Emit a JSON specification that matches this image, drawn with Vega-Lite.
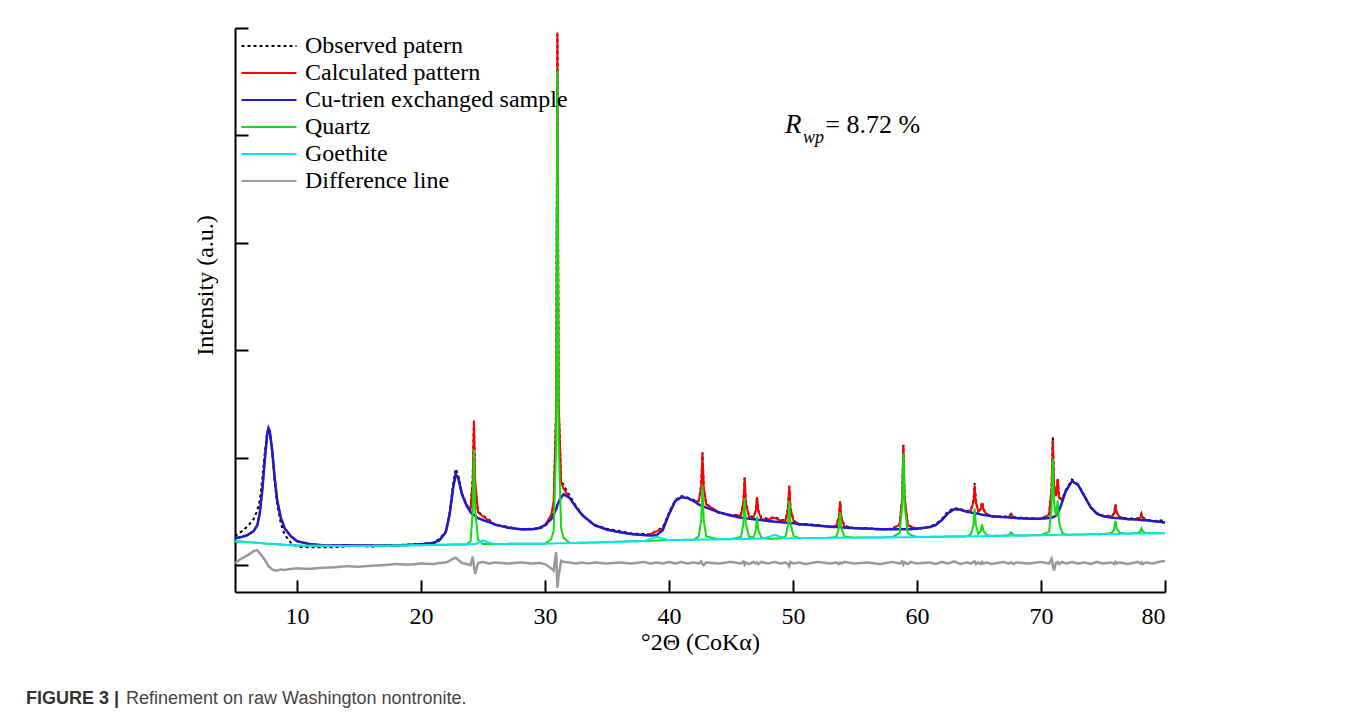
{
  "$schema": "https://vega.github.io/schema/vega-lite/v6.json",
  "width": 930,
  "height": 564,
  "autosize": {"type": "none"},
  "padding": {"left": 235, "top": 28, "right": 182, "bottom": 128},
  "background": "white",
  "config": {"view": {"stroke": null}},
  "title": {
    "text": "FIGURE 3 |",
    "subtitle": "\u200b\u00a0\u00a0\u00a0\u00a0\u00a0\u00a0\u00a0\u00a0\u00a0\u00a0\u00a0\u00a0\u00a0\u00a0\u00a0\u00a0\u00a0\u00a0\u00a0\u00a0Refinement on raw Washington nontronite.",
    "orient": "bottom",
    "anchor": "start",
    "frame": "group",
    "dx": -209,
    "offset": 36,
    "font": "Liberation Sans",
    "fontSize": 18,
    "fontWeight": "bold",
    "color": "#333333",
    "subtitleFont": "Liberation Sans",
    "subtitleFontSize": 18,
    "subtitleFontWeight": "normal",
    "subtitleColor": "#444444",
    "subtitlePadding": -18
  },
  "data": {"values": [
    {"x":5,"obs":27.1,"calc":25.1,"clay":25.1,"qtz":22.3,"goe":22.3,"diff":2},
    {"x":5.5,"obs":31.1,"calc":26.1,"clay":26.1,"qtz":21.9,"goe":21.9,"diff":6},
    {"x":6,"obs":35.9,"calc":27.9,"clay":27.9,"qtz":21.5,"goe":21.5,"diff":9},
    {"x":6.5,"obs":42.7,"calc":31.7,"clay":31.7,"qtz":21.1,"goe":21.1,"diff":13},
    {"x":6.8,"obs":51.2,"calc":37.2,"clay":37.2,"qtz":20.8,"goe":20.8,"diff":14},
    {"x":7.0,"obs":60.4,"calc":48.4,"clay":48.4,"qtz":20.6,"goe":20.6,"diff":11},
    {"x":7.2,"obs":79.8,"calc":69.8,"clay":69.8,"qtz":20.4,"goe":20.4,"diff":8},
    {"x":7.4,"obs":104.8,"calc":97.8,"clay":97.8,"qtz":20.2,"goe":20.2,"diff":5},
    {"x":7.6,"obs":124,"calc":122,"clay":122,"qtz":20.0,"goe":20.0,"diff":1},
    {"x":7.7,"obs":127.5,"calc":127.5,"clay":127.5,"qtz":19.9,"goe":19.9,"diff":-1},
    {"x":7.8,"obs":123.8,"calc":124.8,"clay":124.8,"qtz":19.8,"goe":19.8,"diff":-2},
    {"x":8.0,"obs":105,"calc":107,"clay":107,"qtz":19.8,"goe":19.8,"diff":-4},
    {"x":8.2,"obs":78,"calc":81,"clay":81,"qtz":19.6,"goe":19.6,"diff":-5},
    {"x":8.4,"obs":56.5,"calc":60.5,"clay":60.5,"qtz":19.4,"goe":19.4,"diff":-5},
    {"x":8.7,"obs":38.8,"calc":43.8,"clay":43.8,"qtz":19.2,"goe":19.2,"diff":-4},
    {"x":9.0,"obs":28.4,"calc":34.4,"clay":34.4,"qtz":19.0,"goe":19.0,"diff":-4.5},
    {"x":9.5,"obs":21,"calc":27,"clay":27,"qtz":18.6,"goe":18.6,"diff":-3.5},
    {"x":10,"obs":17.3,"calc":22.3,"clay":22.3,"qtz":18.2,"goe":18.2,"diff":-3},
    {"x":11,"obs":16.6,"calc":19.6,"clay":19.6,"qtz":18.1,"goe":18.1,"diff":-3.5},
    {"x":12,"obs":16.6,"calc":18.6,"clay":18.6,"qtz":18.0,"goe":18.0,"diff":-2.5},
    {"x":13,"obs":16.7,"calc":18.2,"clay":18.2,"qtz":17.9,"goe":17.9,"diff":-2},
    {"x":14,"obs":17.5,"calc":18.5,"clay":18.5,"qtz":17.8,"goe":17.8,"diff":-1},
    {"x":15,"obs":18.2,"calc":18.2,"clay":18.2,"qtz":17.7,"goe":17.7,"diff":-1.5},
    {"x":16,"obs":17.2,"calc":18.2,"clay":18.2,"qtz":17.9,"goe":17.9,"diff":-0.5},
    {"x":17,"obs":18.8,"calc":18.3,"clay":18.3,"qtz":18.1,"goe":18.1,"diff":0},
    {"x":18,"obs":18.0,"calc":18.5,"clay":18.5,"qtz":18.2,"goe":18.2,"diff":1},
    {"x":19,"obs":19.3,"calc":18.8,"clay":18.8,"qtz":18.4,"goe":18.4,"diff":0.5},
    {"x":20,"obs":19.5,"calc":19.5,"clay":19.5,"qtz":18.6,"goe":18.6,"diff":1.5},
    {"x":21,"obs":21.0,"calc":20.5,"clay":20.5,"qtz":18.8,"goe":18.8,"diff":1},
    {"x":21.5,"obs":24.3,"calc":23.3,"clay":23.3,"qtz":18.9,"goe":18.9,"diff":2},
    {"x":22,"obs":31.7,"calc":30.7,"clay":30.7,"qtz":19.0,"goe":19.0,"diff":2.5},
    {"x":22.3,"obs":48.6,"calc":46.6,"clay":46.6,"qtz":19.1,"goe":19.1,"diff":4},
    {"x":22.6,"obs":76.6,"calc":72.6,"clay":72.6,"qtz":19.1,"goe":19.1,"diff":6},
    {"x":22.8,"obs":89.7,"calc":84.7,"clay":84.7,"qtz":19.2,"goe":19.2,"diff":7},
    {"x":23.0,"obs":84,"calc":81,"clay":81,"qtz":19.2,"goe":19.2,"diff":5},
    {"x":23.3,"obs":67.1,"calc":66.1,"clay":66.1,"qtz":19.3,"goe":19.3,"diff":2},
    {"x":23.7,"obs":55.4,"calc":54.9,"clay":54.9,"qtz":19.3,"goe":19.3,"diff":1},
    {"x":24.0,"obs":52.8,"calc":52.3,"clay":49.3,"qtz":22.4,"goe":19.4,"diff":0},
    {"x":24.17,"obs":81.3,"calc":77.3,"clay":47.3,"qtz":49.4,"goe":19.4,"diff":8},
    {"x":24.27,"obs":134.6,"calc":134.6,"clay":46.6,"qtz":107.5,"goe":19.5,"diff":-1},
    {"x":24.37,"obs":72.8,"calc":77.8,"clay":45.8,"qtz":51.5,"goe":19.5,"diff":-8},
    {"x":24.6,"obs":50.0,"calc":49.0,"clay":43.8,"qtz":23.5,"goe":20.7,"diff":2},
    {"x":25.0,"obs":45.9,"calc":45.4,"clay":41.9,"qtz":19.6,"goe":23.1,"diff":3},
    {"x":25.5,"obs":42.2,"calc":41.2,"clay":40.0,"qtz":19.6,"goe":20.8,"diff":1.5},
    {"x":26,"obs":37.2,"calc":37.7,"clay":37.7,"qtz":19.7,"goe":19.7,"diff":2.5},
    {"x":27,"obs":35.7,"calc":34.9,"clay":34.9,"qtz":19.8,"goe":19.8,"diff":1.5},
    {"x":28,"obs":33.0,"calc":33.5,"clay":33.5,"qtz":19.8,"goe":19.8,"diff":2.5},
    {"x":29,"obs":34.0,"calc":33.5,"clay":33.5,"qtz":19.9,"goe":19.9,"diff":1.5},
    {"x":29.5,"obs":33.9,"calc":34.4,"clay":34.4,"qtz":20.0,"goe":20.0,"diff":2},
    {"x":30,"obs":36.2,"calc":37.2,"clay":37.2,"qtz":20.0,"goe":20.0,"diff":1},
    {"x":30.5,"obs":43.8,"calc":46.8,"clay":42.8,"qtz":24.1,"goe":20.1,"diff":-3},
    {"x":30.7,"obs":55.5,"calc":59.5,"clay":47.5,"qtz":32.2,"goe":20.2,"diff":-5},
    {"x":30.9,"obs":150.1,"calc":142.1,"clay":52.1,"qtz":110.3,"goe":20.3,"diff":12},
    {"x":31.0,"obs":493.9,"calc":495.9,"clay":55.9,"qtz":460.3,"goe":20.3,"diff":-21},
    {"x":31.1,"obs":147.7,"calc":153.7,"clay":58.7,"qtz":115.3,"goe":20.3,"diff":-10},
    {"x":31.3,"obs":79,"calc":77,"clay":63.0,"qtz":34.4,"goe":20.4,"diff":4},
    {"x":31.5,"obs":74.1,"calc":71.1,"clay":66.1,"qtz":25.4,"goe":20.4,"diff":3},
    {"x":32,"obs":64.4,"calc":62.4,"clay":62.4,"qtz":20.6,"goe":20.6,"diff":2.5},
    {"x":32.5,"obs":55.0,"calc":54.0,"clay":54.0,"qtz":20.7,"goe":20.7,"diff":1.5},
    {"x":33,"obs":47.1,"calc":46.6,"clay":46.6,"qtz":20.8,"goe":20.8,"diff":2.5},
    {"x":33.5,"obs":41.4,"calc":41.9,"clay":41.9,"qtz":21.0,"goe":21.0,"diff":1.5},
    {"x":34,"obs":37.7,"calc":37.2,"clay":37.2,"qtz":21.1,"goe":21.1,"diff":2.5},
    {"x":35,"obs":33.8,"calc":33.0,"clay":33.0,"qtz":21.4,"goe":21.4,"diff":1.5},
    {"x":36,"obs":31.7,"calc":30.7,"clay":30.7,"qtz":21.8,"goe":21.8,"diff":2.5},
    {"x":37,"obs":29.4,"calc":28.9,"clay":28.9,"qtz":22.2,"goe":22.2,"diff":1.5},
    {"x":38,"obs":28.9,"calc":27.9,"clay":27.9,"qtz":22.5,"goe":22.5,"diff":3},
    {"x":38.5,"obs":28.5,"calc":29.0,"clay":27.5,"qtz":22.7,"goe":24.2,"diff":1.5},
    {"x":39,"obs":31.9,"calc":31.4,"clay":27.9,"qtz":22.9,"goe":26.4,"diff":2.5},
    {"x":39.5,"obs":35.1,"calc":34.1,"clay":32.6,"qtz":23.1,"goe":24.6,"diff":1.5},
    {"x":40,"obs":49.0,"calc":47.5,"clay":47.5,"qtz":23.3,"goe":23.3,"diff":3},
    {"x":40.5,"obs":60.6,"calc":59.6,"clay":59.6,"qtz":23.4,"goe":23.4,"diff":1.5},
    {"x":41,"obs":64.3,"calc":63.3,"clay":63.3,"qtz":23.5,"goe":23.5,"diff":3},
    {"x":41.5,"obs":62.9,"calc":62.4,"clay":62.4,"qtz":23.6,"goe":23.6,"diff":1.5},
    {"x":42,"obs":60.6,"calc":59.6,"clay":59.6,"qtz":23.7,"goe":23.7,"diff":2.5},
    {"x":42.4,"obs":60.0,"calc":59.5,"clay":56.5,"qtz":26.7,"goe":23.7,"diff":1.5},
    {"x":42.6,"obs":74.9,"calc":73.4,"clay":55.4,"qtz":41.8,"goe":23.8,"diff":3.5},
    {"x":42.7,"obs":104.9,"calc":104.9,"clay":54.9,"qtz":73.8,"goe":23.8,"diff":1},
    {"x":42.8,"obs":71.5,"calc":72.5,"clay":54.5,"qtz":41.8,"goe":23.8,"diff":0},
    {"x":43.0,"obs":57.1,"calc":56.6,"clay":53.6,"qtz":26.8,"goe":23.8,"diff":2.5},
    {"x":44,"obs":48.8,"calc":49.3,"clay":49.3,"qtz":24.0,"goe":24.0,"diff":1.5},
    {"x":45,"obs":46.6,"calc":46.1,"clay":46.1,"qtz":24.2,"goe":24.2,"diff":3},
    {"x":45.8,"obs":46.7,"calc":46.2,"clay":44.2,"qtz":26.3,"goe":24.3,"diff":1.5},
    {"x":46.0,"obs":58.9,"calc":57.9,"clay":43.9,"qtz":38.4,"goe":24.4,"diff":3.5},
    {"x":46.1,"obs":81.3,"calc":81.8,"clay":43.8,"qtz":62.4,"goe":24.4,"diff":0.5},
    {"x":46.2,"obs":58.1,"calc":57.6,"clay":43.6,"qtz":38.4,"goe":24.4,"diff":2.5},
    {"x":46.45,"obs":45.8,"calc":45.3,"clay":43.3,"qtz":26.4,"goe":24.4,"diff":1},
    {"x":46.8,"obs":44.8,"calc":43.8,"clay":42.8,"qtz":25.5,"goe":24.5,"diff":3},
    {"x":47.0,"obs":51.0,"calc":50.5,"clay":42.5,"qtz":32.5,"goe":24.5,"diff":1.5},
    {"x":47.1,"obs":63.4,"calc":63.4,"clay":42.4,"qtz":45.5,"goe":24.5,"diff":2.5},
    {"x":47.2,"obs":50.8,"calc":50.3,"clay":42.3,"qtz":32.5,"goe":24.5,"diff":1},
    {"x":47.45,"obs":44.4,"calc":42.9,"clay":41.9,"qtz":25.6,"goe":24.6,"diff":3},
    {"x":48.0,"obs":43.0,"calc":42.5,"clay":41.0,"qtz":24.6,"goe":26.1,"diff":1.5},
    {"x":48.5,"obs":45.0,"calc":44.0,"clay":40.5,"qtz":24.7,"goe":28.2,"diff":3},
    {"x":49.0,"obs":42.0,"calc":41.5,"clay":40.0,"qtz":24.8,"goe":26.3,"diff":1.5},
    {"x":49.4,"obs":42.1,"calc":41.6,"clay":39.6,"qtz":26.9,"goe":24.9,"diff":2.5},
    {"x":49.6,"obs":53.3,"calc":52.3,"clay":39.3,"qtz":37.9,"goe":24.9,"diff":1},
    {"x":49.7,"obs":73.1,"calc":74.1,"clay":39.1,"qtz":59.9,"goe":24.9,"diff":-1},
    {"x":49.8,"obs":52.6,"calc":52.1,"clay":39.1,"qtz":38.0,"goe":25.0,"diff":3},
    {"x":50.05,"obs":41.5,"calc":41.0,"clay":39.0,"qtz":27.1,"goe":25.1,"diff":1.5},
    {"x":50.5,"obs":37.7,"calc":38.2,"clay":38.2,"qtz":25.1,"goe":25.1,"diff":2.5},
    {"x":51,"obs":38.2,"calc":37.7,"clay":37.7,"qtz":25.2,"goe":25.2,"diff":1},
    {"x":52,"obs":37.3,"calc":36.8,"clay":36.8,"qtz":25.3,"goe":25.3,"diff":3},
    {"x":53,"obs":35.3,"calc":35.8,"clay":35.8,"qtz":25.4,"goe":25.4,"diff":1.5},
    {"x":53.5,"obs":36.9,"calc":36.4,"clay":35.4,"qtz":26.4,"goe":25.4,"diff":2.5},
    {"x":53.7,"obs":45.4,"calc":44.4,"clay":35.4,"qtz":34.5,"goe":25.5,"diff":1},
    {"x":53.8,"obs":59.4,"calc":59.4,"clay":35.4,"qtz":49.5,"goe":25.5,"diff":2.5},
    {"x":53.9,"obs":44.7,"calc":44.2,"clay":35.2,"qtz":34.5,"goe":25.5,"diff":1.5},
    {"x":54.15,"obs":36.4,"calc":35.9,"clay":34.9,"qtz":26.5,"goe":25.5,"diff":3},
    {"x":55,"obs":34.4,"calc":34.4,"clay":34.4,"qtz":25.6,"goe":25.6,"diff":1.5},
    {"x":56,"obs":34.5,"calc":34.0,"clay":34.0,"qtz":25.7,"goe":25.7,"diff":2.5},
    {"x":57,"obs":33.0,"calc":33.5,"clay":33.5,"qtz":25.8,"goe":25.8,"diff":1},
    {"x":58,"obs":34.0,"calc":33.5,"clay":33.5,"qtz":25.9,"goe":25.9,"diff":3},
    {"x":58.6,"obs":38.0,"calc":37.5,"clay":33.5,"qtz":30.0,"goe":26.0,"diff":1.5},
    {"x":58.8,"obs":63.0,"calc":61.5,"clay":33.5,"qtz":54.0,"goe":26.0,"diff":3.5},
    {"x":58.9,"obs":112.0,"calc":111.5,"clay":33.5,"qtz":104.0,"goe":26.0,"diff":0.5},
    {"x":59.0,"obs":62.5,"calc":63.5,"clay":33.5,"qtz":56.0,"goe":26.0,"diff":2.5},
    {"x":59.25,"obs":38.0,"calc":37.5,"clay":33.5,"qtz":30.0,"goe":26.0,"diff":1},
    {"x":59.5,"obs":36.0,"calc":35.5,"clay":33.5,"qtz":28.0,"goe":26.0,"diff":3},
    {"x":60,"obs":33.5,"calc":34.0,"clay":34.0,"qtz":26.1,"goe":26.1,"diff":1.5},
    {"x":61,"obs":35.9,"calc":35.4,"clay":35.4,"qtz":26.3,"goe":26.3,"diff":2.5},
    {"x":61.5,"obs":38.2,"calc":37.2,"clay":37.2,"qtz":26.4,"goe":26.4,"diff":1},
    {"x":62,"obs":42.9,"calc":41.9,"clay":41.9,"qtz":26.5,"goe":26.5,"diff":3},
    {"x":62.5,"obs":49.9,"calc":48.4,"clay":48.4,"qtz":26.6,"goe":26.6,"diff":1.5},
    {"x":63,"obs":53.1,"calc":52.1,"clay":52.1,"qtz":26.6,"goe":26.6,"diff":3.5},
    {"x":63.5,"obs":52.2,"calc":51.7,"clay":51.7,"qtz":26.7,"goe":26.7,"diff":1},
    {"x":64,"obs":49.8,"calc":49.8,"clay":49.8,"qtz":26.8,"goe":26.8,"diff":2.5},
    {"x":64.35,"obs":51.5,"calc":51.0,"clay":49.0,"qtz":28.9,"goe":26.9,"diff":1.5},
    {"x":64.55,"obs":59.6,"calc":58.6,"clay":48.6,"qtz":36.9,"goe":26.9,"diff":3},
    {"x":64.65,"obs":76.4,"calc":74.4,"clay":48.4,"qtz":52.9,"goe":26.9,"diff":3.5},
    {"x":64.75,"obs":58.7,"calc":58.2,"clay":48.2,"qtz":37.0,"goe":27.0,"diff":1},
    {"x":64.95,"obs":50.4,"calc":49.9,"clay":47.9,"qtz":29.0,"goe":27.0,"diff":2.5},
    {"x":65.15,"obs":52.7,"calc":52.2,"clay":47.2,"qtz":32.0,"goe":27.0,"diff":1},
    {"x":65.25,"obs":59.0,"calc":58.0,"clay":47.0,"qtz":38.0,"goe":27.0,"diff":3},
    {"x":65.35,"obs":52.3,"calc":51.8,"clay":46.8,"qtz":32.0,"goe":27.0,"diff":1.5},
    {"x":65.6,"obs":47.9,"calc":47.4,"clay":46.4,"qtz":28.1,"goe":27.1,"diff":2.5},
    {"x":66,"obs":45.1,"calc":45.6,"clay":45.6,"qtz":27.2,"goe":27.2,"diff":1},
    {"x":67,"obs":45.2,"calc":44.7,"clay":44.7,"qtz":27.4,"goe":27.4,"diff":3},
    {"x":67.4,"obs":45.4,"calc":44.9,"clay":44.4,"qtz":27.9,"goe":27.4,"diff":1.5},
    {"x":67.6,"obs":47.7,"calc":47.2,"clay":44.2,"qtz":30.5,"goe":27.5,"diff":2.5},
    {"x":67.8,"obs":44.5,"calc":44.5,"clay":44.0,"qtz":28.0,"goe":27.5,"diff":1},
    {"x":68,"obs":44.3,"calc":43.8,"clay":43.8,"qtz":27.5,"goe":27.5,"diff":2.5},
    {"x":69,"obs":43.8,"calc":43.3,"clay":43.3,"qtz":27.7,"goe":27.7,"diff":1.5},
    {"x":70,"obs":42.8,"calc":43.3,"clay":43.3,"qtz":27.9,"goe":27.9,"diff":3},
    {"x":70.65,"obs":47.3,"calc":46.8,"clay":43.8,"qtz":31.0,"goe":28.0,"diff":1.5},
    {"x":70.85,"obs":71.3,"calc":69.3,"clay":44.3,"qtz":53.1,"goe":28.1,"diff":6},
    {"x":70.95,"obs":118.7,"calc":115.7,"clay":44.7,"qtz":99.1,"goe":28.1,"diff":0},
    {"x":71.05,"obs":73.2,"calc":75.2,"clay":45.2,"qtz":58.1,"goe":28.1,"diff":-5},
    {"x":71.2,"obs":64.5,"calc":64.0,"clay":46.0,"qtz":46.1,"goe":28.1,"diff":2},
    {"x":71.35,"obs":80.9,"calc":80.4,"clay":48.4,"qtz":60.2,"goe":28.2,"diff":3},
    {"x":71.45,"obs":63.0,"calc":62.5,"clay":50.5,"qtz":40.2,"goe":28.2,"diff":1},
    {"x":71.7,"obs":61.5,"calc":60.5,"clay":58.5,"qtz":30.2,"goe":28.2,"diff":3},
    {"x":72,"obs":69.9,"calc":68.9,"clay":68.9,"qtz":28.3,"goe":28.3,"diff":1.5},
    {"x":72.5,"obs":79.7,"calc":78.2,"clay":78.2,"qtz":28.4,"goe":28.4,"diff":3},
    {"x":73,"obs":75.0,"calc":74.5,"clay":74.5,"qtz":28.5,"goe":28.5,"diff":1.5},
    {"x":73.5,"obs":64.7,"calc":64.2,"clay":64.2,"qtz":28.6,"goe":28.6,"diff":2.5},
    {"x":74,"obs":54.0,"calc":54.0,"clay":54.0,"qtz":28.7,"goe":28.7,"diff":1},
    {"x":74.5,"obs":48.4,"calc":47.9,"clay":47.9,"qtz":28.8,"goe":28.8,"diff":3},
    {"x":75,"obs":46.1,"calc":45.6,"clay":45.6,"qtz":28.9,"goe":28.9,"diff":1.5},
    {"x":75.7,"obs":45.7,"calc":45.2,"clay":44.2,"qtz":30.0,"goe":29.0,"diff":2.5},
    {"x":75.9,"obs":48.5,"calc":48.0,"clay":44.0,"qtz":33.1,"goe":29.1,"diff":1},
    {"x":76.0,"obs":56.8,"calc":55.8,"clay":43.8,"qtz":41.1,"goe":29.1,"diff":3},
    {"x":76.1,"obs":49.3,"calc":48.8,"clay":43.8,"qtz":34.1,"goe":29.1,"diff":1.5},
    {"x":76.35,"obs":44.7,"calc":44.7,"clay":43.7,"qtz":30.1,"goe":29.1,"diff":2.5},
    {"x":77,"obs":43.3,"calc":42.8,"clay":42.8,"qtz":29.3,"goe":29.3,"diff":1},
    {"x":77.8,"obs":43.4,"calc":42.9,"clay":42.4,"qtz":29.9,"goe":29.4,"diff":3},
    {"x":78.0,"obs":44.7,"calc":44.2,"clay":42.2,"qtz":31.4,"goe":29.4,"diff":1.5},
    {"x":78.1,"obs":47.9,"calc":46.9,"clay":41.9,"qtz":34.4,"goe":29.4,"diff":2.5},
    {"x":78.2,"obs":44.4,"calc":43.9,"clay":41.9,"qtz":31.5,"goe":29.5,"diff":1},
    {"x":78.45,"obs":42.8,"calc":42.3,"clay":41.8,"qtz":30.0,"goe":29.5,"diff":2.5},
    {"x":79,"obs":41.0,"calc":41.0,"clay":41.0,"qtz":29.6,"goe":29.6,"diff":1.5},
    {"x":79.5,"obs":41.5,"calc":40.5,"clay":40.5,"qtz":29.7,"goe":29.7,"diff":3},
    {"x":80,"obs":41.6,"calc":39.6,"clay":39.6,"qtz":29.8,"goe":29.8,"diff":4}
  ]},
  "layer": [
    {
      "mark": {"type": "line", "strokeWidth": 2},
      "encoding": {
        "x": {"field": "x", "type": "quantitative", "title": "°2Θ (CoKα)",
          "scale": {"domain": [5, 80], "nice": false, "zero": false},
          "axis": {"values": [10, 20, 30, 40, 50, 60, 70, 80], "grid": false,
            "tickSize": -12, "tickWidth": 2, "tickColor": "#000000",
            "domainColor": "#000000", "domainWidth": 2,
            "labelFont": "Liberation Serif", "labelFontSize": 24, "labelColor": "#000000", "labelPadding": 24,
            "titleFont": "Liberation Serif", "titleFontSize": 24, "titleFontWeight": "normal", "titleColor": "#000000", "titlePadding": 2}},
        "y": {"field": "obs", "type": "quantitative", "title": "Intensity (a.u.)",
          "scale": {"domain": [-25, 500], "nice": false, "zero": false},
          "axis": {"values": [0, 100, 200, 300, 400, 500], "grid": false, "labels": false,
            "tickSize": -13, "tickWidth": 2, "tickColor": "#000000",
            "domainColor": "#000000", "domainWidth": 2,
            "titleFont": "Liberation Serif", "titleFontSize": 24, "titleFontWeight": "normal", "titleColor": "#000000",
            "titleX": -30, "titleY": 257, "titleBaseline": "middle"}},
        "color": {"datum": "obs", "type": "nominal",
          "scale": {"domain": ["obs", "calc", "clay", "qtz", "goe", "diff"],
            "range": ["#000000", "#ff0000", "#1c1cc8", "#11dd11", "#00e6f0", "#999999"]},
          "legend": {"title": null, "orient": "none", "legendX": 22, "legendY": 6,
            "symbolType": "M-3,0H3", "symbolSize": 336, "symbolStrokeWidth": 2,
            "labelFont": "Liberation Serif", "labelFontSize": 24, "labelColor": "#000000", "labelLimit": 600,
            "labelOffset": 24, "rowPadding": 3, "padding": 0,
            "labelExpr": "datum.label == 'obs' ? 'Observed patern' : datum.label == 'calc' ? 'Calculated pattern' : datum.label == 'clay' ? 'Cu-trien exchanged sample' : datum.label == 'qtz' ? 'Quartz' : datum.label == 'goe' ? 'Goethite' : 'Difference line'"}},
        "strokeDash": {"datum": "obs", "type": "nominal",
          "scale": {"domain": ["obs", "calc", "clay", "qtz", "goe", "diff"],
            "range": [[3, 3], [1, 0], [1, 0], [1, 0], [1, 0], [1, 0]]},
          "legend": {"title": null, "orient": "none", "legendX": 22, "legendY": 6,
            "symbolType": "M-3,0H3", "symbolSize": 336, "symbolStrokeWidth": 2,
            "labelFont": "Liberation Serif", "labelFontSize": 24, "labelColor": "#000000", "labelLimit": 600,
            "labelOffset": 24, "rowPadding": 3, "padding": 0,
            "labelExpr": "datum.label == 'obs' ? 'Observed patern' : datum.label == 'calc' ? 'Calculated pattern' : datum.label == 'clay' ? 'Cu-trien exchanged sample' : datum.label == 'qtz' ? 'Quartz' : datum.label == 'goe' ? 'Goethite' : 'Difference line'"}}
      }
    },
    {
      "mark": {"type": "line", "strokeWidth": 2},
      "encoding": {
        "x": {"field": "x", "type": "quantitative", "title": "°2Θ (CoKα)"},
        "y": {"field": "calc", "type": "quantitative", "title": "Intensity (a.u.)"},
        "color": {"datum": "calc", "type": "nominal"},
        "strokeDash": {"datum": "calc", "type": "nominal"}
      }
    },
    {
      "mark": {"type": "line", "strokeWidth": 2.5},
      "encoding": {
        "x": {"field": "x", "type": "quantitative", "title": "°2Θ (CoKα)"},
        "y": {"field": "clay", "type": "quantitative", "title": "Intensity (a.u.)"},
        "color": {"datum": "clay", "type": "nominal"},
        "strokeDash": {"datum": "clay", "type": "nominal"}
      }
    },
    {
      "mark": {"type": "line", "strokeWidth": 2},
      "encoding": {
        "x": {"field": "x", "type": "quantitative", "title": "°2Θ (CoKα)"},
        "y": {"field": "qtz", "type": "quantitative", "title": "Intensity (a.u.)"},
        "color": {"datum": "qtz", "type": "nominal"},
        "strokeDash": {"datum": "qtz", "type": "nominal"}
      }
    },
    {
      "mark": {"type": "line", "strokeWidth": 2},
      "encoding": {
        "x": {"field": "x", "type": "quantitative", "title": "°2Θ (CoKα)"},
        "y": {"field": "goe", "type": "quantitative", "title": "Intensity (a.u.)"},
        "color": {"datum": "goe", "type": "nominal"},
        "strokeDash": {"datum": "goe", "type": "nominal"}
      }
    },
    {
      "mark": {"type": "line", "strokeWidth": 2.5},
      "encoding": {
        "x": {"field": "x", "type": "quantitative", "title": "°2Θ (CoKα)"},
        "y": {"field": "diff", "type": "quantitative", "title": "Intensity (a.u.)"},
        "color": {"datum": "diff", "type": "nominal"},
        "strokeDash": {"datum": "diff", "type": "nominal"}
      }
    },
    {
      "data": {"values": [{"x": 49.35, "y": 402, "t": "R"}]},
      "mark": {"type": "text", "font": "Liberation Serif", "fontSize": 27, "fontStyle": "italic", "align": "left", "baseline": "alphabetic", "color": "#000000"},
      "encoding": {
        "x": {"field": "x", "type": "quantitative", "title": "°2Θ (CoKα)"},
        "y": {"field": "y", "type": "quantitative", "title": "Intensity (a.u.)"},
        "text": {"field": "t"}
      }
    },
    {
      "data": {"values": [{"x": 50.8, "y": 393, "t": "wp"}]},
      "mark": {"type": "text", "font": "Liberation Serif", "fontSize": 18, "fontStyle": "italic", "align": "left", "baseline": "alphabetic", "color": "#000000"},
      "encoding": {
        "x": {"field": "x", "type": "quantitative", "title": "°2Θ (CoKα)"},
        "y": {"field": "y", "type": "quantitative", "title": "Intensity (a.u.)"},
        "text": {"field": "t"}
      }
    },
    {
      "data": {"values": [{"x": 52.6, "y": 402, "t": "= 8.72 %"}]},
      "mark": {"type": "text", "font": "Liberation Serif", "fontSize": 26, "align": "left", "baseline": "alphabetic", "color": "#000000"},
      "encoding": {
        "x": {"field": "x", "type": "quantitative", "title": "°2Θ (CoKα)"},
        "y": {"field": "y", "type": "quantitative", "title": "Intensity (a.u.)"},
        "text": {"field": "t"}
      }
    }
  ]
}
